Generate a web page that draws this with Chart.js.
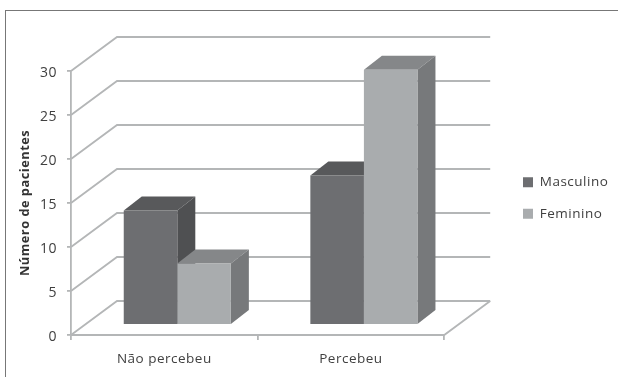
<!DOCTYPE html>
<html>
<head>
<meta charset="utf-8">
<title>Número de pacientes</title>
<script src="https://cdn.jsdelivr.net/npm/chart.js@4"></script>
<style>
    html, body { margin: 0; background: #fff; }
    #wrap { position: relative; width: 618px; height: 378px; overflow: hidden; }
    #frame { position: absolute; left: 5px; top: 10px; width: 613px; height: 366px; border-top: 1px solid #777; border-left: 1px solid #777; }
    canvas { position: absolute; left: 0; top: 0; }
</style>
</head>
<body>
<div id="wrap">
    <div id="frame"></div>
    <canvas id="pacientesChart" width="618" height="378"></canvas>
</div>
<script>
const categories = ['Não percebeu', 'Percebeu'];
const masculino = [13, 17];
const feminino = [7, 29];
const yTicks = [0, 5, 10, 15, 20, 25, 30];

// --- 3D look: depth of the walls and of the bars, in px ---
const WALL_DX = 46, WALL_DY = -34;
const BAR_SHIFT_X = 13, BAR_SHIFT_Y = -10;
const BAR_DX = 18, BAR_DY = -14;
const LINE_COLOR = '#b4b6b7';

const faceColors = [
    { top: '#58595b', side: '#4f5052' },
    { top: '#858789', side: '#77797b' }
];

function fillFace(ctx, color, pts) {
    ctx.fillStyle = color;
    ctx.beginPath();
    pts.forEach((p, i) => i ? ctx.lineTo(p[0], p[1]) : ctx.moveTo(p[0], p[1]));
    ctx.closePath();
    ctx.fill();
}

const walls3d = {
    id: 'walls3d',
    beforeDraw(chart) {
        chart.ctx.letterSpacing = '0.5px';
    },
    beforeDatasetsDraw(chart) {
        const { ctx, scales: { x, y } } = chart;
        const left = x.left, right = x.right;

        // left wall and back wall, one line per tick
        ctx.save();
        ctx.strokeStyle = LINE_COLOR;
        ctx.lineWidth = 1.8;
        yTicks.forEach(t => {
            const py = y.getPixelForValue(t);
            ctx.beginPath();
            ctx.moveTo(left, py);
            ctx.lineTo(left + WALL_DX, py + WALL_DY);
            ctx.lineTo(right + WALL_DX, py + WALL_DY);
            ctx.stroke();
        });
        // floor edges
        const py0 = y.getPixelForValue(0);
        ctx.beginPath();
        ctx.moveTo(left, py0);
        ctx.lineTo(right, py0);
        ctx.lineTo(right + WALL_DX, py0 + WALL_DY);
        ctx.stroke();
        ctx.restore();

        // bars stand a bit behind the front edge of the floor
        ctx.save();
        ctx.translate(BAR_SHIFT_X, BAR_SHIFT_Y);

        // top and side faces first, the fronts come from Chart.js afterwards
        chart.data.datasets.forEach((ds, i) => {
            chart.getDatasetMeta(i).data.forEach(bar => {
                const l = bar.x - bar.width / 2, r = bar.x + bar.width / 2;
                fillFace(ctx, faceColors[i].top, [
                    [l, bar.y], [l + BAR_DX, bar.y + BAR_DY], [r + BAR_DX, bar.y + BAR_DY], [r, bar.y]
                ]);
                fillFace(ctx, faceColors[i].side, [
                    [r, bar.y], [r + BAR_DX, bar.y + BAR_DY], [r + BAR_DX, bar.base + BAR_DY], [r, bar.base]
                ]);
            });
        });
    },
    afterDatasetsDraw(chart) {
        chart.ctx.restore();
    }
};

// puts the legend beside the plot, lower than the layout would place it
const legendPlace = {
    id: 'legendPlace',
    afterLayout(chart) {
        const legend = chart.legend;
        const w = legend.width;
        legend.left = 505;
        legend.right = legend.left + w;
        legend.top = 151;
        legend.bottom = 245;
    }
};

new Chart(document.getElementById('pacientesChart'), {
    type: 'bar',
    data: {
        labels: categories,
        datasets: [
            { label: 'Masculino', data: masculino, backgroundColor: '#6d6e71', clip: false },
            { label: 'Feminino', data: feminino, backgroundColor: '#a9acae', clip: false }
        ]
    },
    options: {
        responsive: false,
        animation: false,
        events: [],
        layout: { padding: { left: 18, top: 71, right: 65, bottom: 0 } },
        datasets: { bar: { categoryPercentage: 0.574, barPercentage: 1 } },
        plugins: {
            tooltip: { enabled: false },
            legend: {
                position: 'right',
                labels: {
                    color: '#404040',
                    font: { family: 'Open Sans', size: 13.5 },
                    boxWidth: 10,
                    boxHeight: 10,
                    padding: 18
                }
            }
        },
        scales: {
            x: {
                afterFit(scale) {
                    scale.height = 43;
                },
                grid: { drawOnChartArea: false, color: LINE_COLOR, tickLength: 5, lineWidth: 1.8 },
                border: { color: LINE_COLOR, width: 1.8 },
                ticks: { color: '#404040', font: { family: 'Open Sans', size: 13.5 }, padding: 11 }
            },
            y: {
                min: 0,
                max: 30,
                // fixed width keeps the axis title close to the tick labels
                afterFit(scale) {
                    scale.width = 53;
                },
                title: {
                    display: true,
                    text: 'Número de pacientes',
                    color: '#333',
                    font: { family: 'Open Sans', size: 12.8, weight: 'bold' },
                    padding: { top: 0, bottom: 0 }
                },
                grid: { drawOnChartArea: false, color: LINE_COLOR, tickLength: 4, lineWidth: 1.8 },
                border: { color: LINE_COLOR, width: 1.8 },
                afterBuildTicks(scale) {
                    scale.ticks = yTicks.map(value => ({ value }));
                },
                ticks: { color: '#404040', font: { family: 'Open Sans', size: 14 }, padding: 10, labelOffset: 2 }
            }
        }
    },
    plugins: [walls3d, legendPlace]
});
</script>
</body>
</html>
